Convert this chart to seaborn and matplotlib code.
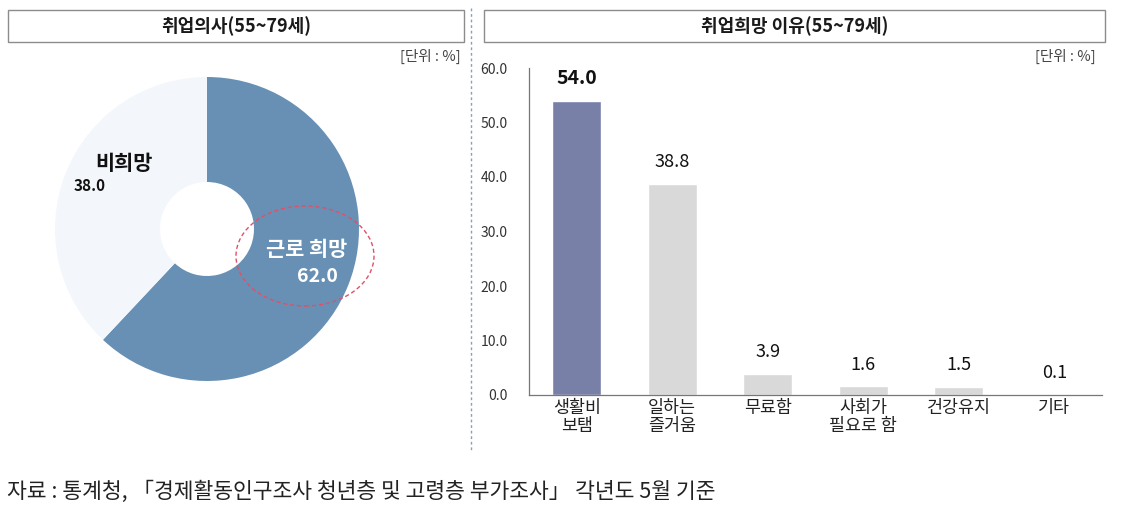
import matplotlib
matplotlib.use("Agg")
import matplotlib.pyplot as plt
import seaborn as sns
import pandas as pd
from matplotlib.patches import Rectangle, Ellipse
from matplotlib.lines import Line2D

# ---- data ----
pie_labels = ["근로 희망", "비희망"]
pie_values = [62.0, 38.0]
bar_categories = ["생활비\n보탬", "일하는\n즐거움", "무료함", "사회가\n필요로 함", "건강유지", "기타"]
bar_values = [54.0, 38.8, 3.9, 1.6, 1.5, 0.1]
y_ticks = [0, 10, 20, 30, 40, 50, 60]
left_title = "취업의사(55~79세)"
right_title = "취업희망 이유(55~79세)"
unit_text = "[단위 : %]"
source_text = "자료 : 통계청, 「경제활동인구조사 청년층 및 고령층 부가조사」 각년도 5월 기준"

sns.set_style("white")
plt.rcParams["font.family"] = ["Noto Sans CJK KR", "DejaVu Sans"]

W, H = 1122, 513
fig = plt.figure(figsize=(W / 100, H / 100), dpi=100)
fig.patch.set_facecolor("white")


def fx(x):
    return x / W


def fy(y):
    return 1 - y / H


# ---- title boxes ----
for (x0, x1, title) in [(8, 464, left_title), (484, 1105, right_title)]:
    fig.patches.append(Rectangle((fx(x0), fy(42)), fx(x1 - x0), (42 - 10) / H,
                                 transform=fig.transFigure, facecolor="white",
                                 edgecolor="#8c8c8c", linewidth=1.0))
    fig.text(fx((x0 + x1) / 2), fy(26), title, ha="center", va="center",
             fontsize=13, fontweight="bold", color="#1a1a1a")

fig.text(fx(461), fy(56), unit_text, ha="right", va="center", fontsize=10.5, color="#444444")
fig.text(fx(1096), fy(56), unit_text, ha="right", va="center", fontsize=10.5, color="#444444")

# dashed divider
fig.lines.append(Line2D([fx(471), fx(471)], [fy(8), fy(452)], transform=fig.transFigure,
                        color="#8aa0b8", linestyle=(0, (2, 2)), linewidth=1.0))

# ---- donut ----
axp = fig.add_axes([0, 0, 470 / W, 1])
pie_colors = ["#6890b4", "#f3f7fb"]
axp.pie(pie_values, colors=pie_colors, startangle=90, counterclock=False,
        center=(207, H - 229), radius=152, wedgeprops=dict(width=105, linewidth=0),
        frame=False)
axp.set_xlim(0, 470)
axp.set_ylim(0, H)
axp.set_aspect("equal")
axp.axis("off")
axp.add_patch(Ellipse((305, H - 256), 138, 100, fill=False, edgecolor="#e05068",
                      linestyle=(0, (3, 2)), linewidth=1.0))

fig.text(fx(307), fy(249), pie_labels[0], ha="center", va="center", fontsize=15,
         fontweight="bold", color="white")
fig.text(fx(317), fy(276), f"{pie_values[0]:.1f}", ha="center", va="center", fontsize=14,
         fontweight="bold", color="white")
fig.text(fx(124), fy(164), pie_labels[1], ha="center", va="center", fontsize=15,
         fontweight="bold", color="#111111")
fig.text(fx(90), fy(186), f"{pie_values[1]:.1f}", ha="center", va="center", fontsize=11,
         fontweight="bold", color="#111111")

# ---- bar chart ----
axb = fig.add_axes([fx(529), fy(395), (1102 - 529) / W, (395 - 68) / H])
df = pd.DataFrame({"cat": bar_categories, "val": bar_values})
bar_colors = ["#7880a8"] + ["#d9d9d9"] * (len(bar_values) - 1)
sns.barplot(data=df, x="cat", y="val", hue="cat", palette=bar_colors, legend=False,
            width=0.51, ax=axb, saturation=1)
axb.set_xlim(-0.5, 5.5)
axb.set_ylim(0, 60)
axb.set_yticks(y_ticks)
axb.set_yticklabels([f"{v:.1f}" for v in y_ticks], fontsize=10, color="#333333")
axb.set_xlabel("")
axb.set_ylabel("")
for s in ["top", "right"]:
    axb.spines[s].set_visible(False)
for s in ["left", "bottom"]:
    axb.spines[s].set_color("#777777")
    axb.spines[s].set_linewidth(0.9)
axb.tick_params(axis="y", direction="out", length=4.5, width=0.8, color="#777777", pad=11)
axb.tick_params(axis="x", length=0, pad=3, labelsize=12.5, labelcolor="#222222")
for lbl in axb.get_xticklabels():
    lbl.set_linespacing(1.0)
axb.set_facecolor("white")

for i, v in enumerate(bar_values):
    if i == 0:
        axb.annotate(f"{v:.1f}", (i, v), xytext=(0, 9), textcoords="offset points",
                     ha="center", va="bottom", fontsize=14, fontweight="bold", color="#111111")
    else:
        axb.annotate(f"{v:.1f}", (i, v), xytext=(0, 9), textcoords="offset points",
                     ha="center", va="bottom", fontsize=13, color="#111111")

# ---- source ----
fig.text(fx(7), fy(492), source_text, ha="left", va="center", fontsize=15.5, color="#222222")

fig.savefig("out.png", dpi=100, facecolor="white")
